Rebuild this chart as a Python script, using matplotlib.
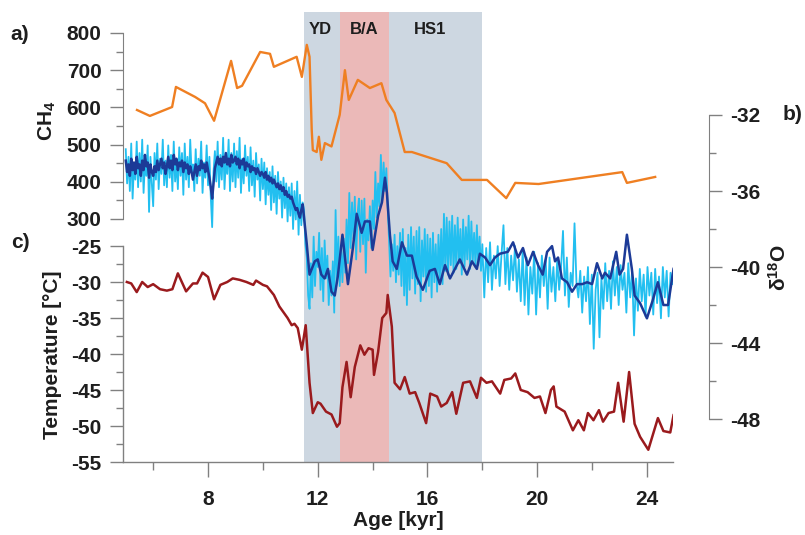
import numpy as np
import matplotlib
matplotlib.use("Agg")
import matplotlib.pyplot as plt
import matplotlib.transforms as mtransforms

plt.rcParams['font.family'] = ['Liberation Sans', 'DejaVu Sans']
plt.rcParams['font.weight'] = 'bold'
plt.rcParams['mathtext.fontset'] = 'custom'
plt.rcParams['mathtext.rm'] = 'Liberation Sans:bold'
plt.rcParams['mathtext.bf'] = 'Liberation Sans:bold'
plt.rcParams['mathtext.it'] = 'Liberation Sans:bold'
plt.rcParams['mathtext.default'] = 'bf'
plt.rcParams['axes.unicode_minus'] = False

# ---------------- data ----------------
# CH4 (ppb)
ch4_age = [5.41, 5.88, 6.69, 6.83, 7.53, 7.89, 8.22, 8.84, 9.06, 9.24, 9.90, 10.26,
           10.40, 11.23, 11.42, 11.60, 11.70, 11.78, 11.82, 11.96, 12.04, 12.13, 12.26,
           12.50, 12.80, 12.99, 13.13, 13.46, 13.90, 14.32, 14.50, 14.80, 15.17, 15.43,
           16.70, 17.25, 18.17, 18.87, 19.20, 20.05, 23.10, 23.27, 24.30]
ch4_val = [593, 577, 601, 655, 628, 611, 564, 725, 652, 658, 749, 744,
           709, 736, 682, 768, 736, 539, 485, 480, 521, 459, 504,
           495, 580, 700, 620, 674, 652, 665, 620, 585, 480, 480,
           450, 405, 405, 356, 397, 394, 426, 397, 413]

# high-resolution d18O record (light blue), three regularly sampled sections
d18o_hi_young_start, d18o_hi_young_step = 5.00, 0.05
d18o_hi_young = [
    -33.8, -35.6, -34.2, -36.0, -33.5, -36.4, -34.6, -35.4, -33.4, -35.8,
    -34.0, -35.5, -33.3, -36.1, -34.5, -35.2, -33.6, -37.1, -34.2, -35.6,
    -36.8, -34.0, -35.4, -33.5, -35.9, -34.3, -35.1, -33.3, -35.7, -34.4,
    -35.8, -33.6, -35.3, -34.1, -36.0, -33.4, -35.5, -34.5, -35.9, -33.7,
    -35.2, -34.0, -36.2, -33.5, -35.4, -34.2, -35.8, -33.3, -35.0, -34.6,
    -36.0, -33.8, -35.6, -34.3, -35.2, -33.4, -36.1, -34.5, -35.3, -33.6,
    -35.7, -34.2, -36.3, -37.9, -35.0, -33.9, -35.5, -33.4, -35.8, -34.1,
    -35.4, -33.2, -35.9, -34.4, -35.1, -33.3, -36.0, -34.0, -35.5, -33.5,
    -35.8, -33.9, -35.3, -33.2, -36.1, -34.3, -35.6, -33.6, -35.2, -34.2,
    -36.0, -33.7, -35.7, -34.4, -36.3, -34.0, -35.4, -34.6, -36.5, -34.3,
    -35.9, -34.5, -36.7, -34.8, -36.2, -35.0, -37.0, -34.7, -36.6, -35.2,
    -37.2, -35.0, -36.4, -35.5, -37.4, -35.3, -36.9, -35.6, -37.6, -35.8,
    -37.3, -35.6, -38.0, -36.0, -37.5, -35.5, -38.3, -36.2, -37.8, -36.6,
]
d18o_hi_mid_start, d18o_hi_mid_step = 11.50, 0.05
d18o_hi_mid = [
    -37.0, -38.8, -39.5, -41.5, -42.2, -39.8, -41.6, -38.4, -41.0, -39.2,
    -40.0, -38.2, -41.2, -39.0, -41.8, -38.6, -40.6, -39.4, -42.0, -40.2,
    -41.5, -39.7, -42.4, -37.0, -40.6, -38.4, -41.0, -39.0, -40.8, -38.5,
    -40.3, -37.5, -39.8, -36.1, -39.0, -36.6, -38.5, -36.3, -39.6, -37.2,
    -36.4, -39.2, -36.5, -38.8, -36.4, -40.3, -37.5, -38.6, -36.8, -39.0,
    -36.5, -38.0, -35.0, -37.4, -35.6, -36.8, -34.1, -36.5, -34.5, -36.0,
    -34.8, -36.9, -38.6, -40.5, -38.8, -40.2, -38.3, -40.8, -38.9, -40.4,
    -38.2, -41.0, -38.0, -41.5, -39.0, -42.0, -38.3, -41.2, -37.9, -40.6,
    -38.4, -41.4, -38.1, -40.9, -37.9, -41.8, -38.6, -40.5, -38.0, -41.3,
    -38.3, -41.0, -38.5, -41.6, -38.2, -40.8, -38.8, -41.3, -38.3, -40.7,
    -38.0, -40.9, -37.2, -40.2, -37.4, -40.4, -37.6, -39.9, -37.3, -40.3,
    -37.8, -40.1, -37.4, -39.8, -38.0, -40.4, -37.5, -40.0, -37.9, -39.6,
    -37.3, -40.1, -37.6, -39.7, -38.2, -40.0, -37.8, -39.9, -38.4, -40.2,
]
d18o_hi_old_start, d18o_hi_old_step = 18.00, 0.07
d18o_hi_old = [
    -38.8, -41.6, -39.0, -40.8, -38.7, -41.2, -39.4, -40.6, -38.9, -41.0,
    -39.3, -37.8, -40.9, -39.0, -41.2, -39.4, -40.7, -38.9, -41.3, -39.6,
    -41.8, -39.1, -42.0, -39.5, -42.5, -40.0, -41.4, -39.2, -42.5, -39.8,
    -41.6, -39.4, -41.0, -39.6, -42.2, -39.5, -41.3, -40.0, -41.8, -39.6,
    -41.2, -40.0, -38.1, -41.5, -39.5, -42.1, -40.3, -41.0, -37.7, -40.8,
    -41.6, -40.2, -42.4, -40.5, -41.8, -40.0, -43.0, -40.4, -44.3, -41.2,
    -40.3, -43.7, -40.6, -42.2, -39.8, -41.8, -40.2, -42.2, -39.7, -41.5,
    -40.0, -42.0, -39.9, -41.2, -40.3, -42.4, -39.8, -41.6, -40.2, -43.6,
    -40.6, -42.3, -40.1, -41.8, -40.4, -42.6, -40.0, -41.5, -40.3, -42.5,
    -40.1, -41.9, -40.5, -42.7, -40.0, -41.6, -40.2, -42.6, -40.3, -40.9,
]

# lower-resolution d18O record (dark blue)
d18o_lo_young_start, d18o_lo_young_step = 5.00, 0.05
d18o_lo_young = [
    -34.4, -35.0, -34.6, -35.2, -34.3, -34.9, -34.5, -35.1, -34.2, -34.8,
    -34.6, -35.2, -34.4, -34.9, -34.1, -34.7, -34.5, -35.3, -34.6, -35.0,
    -35.2, -34.7, -35.0, -34.4, -34.9, -34.6, -34.3, -34.8, -34.5, -35.1,
    -34.7, -34.2, -34.8, -34.4, -34.9, -34.1, -34.6, -34.3, -34.9, -34.5,
    -34.7, -34.4, -35.0, -34.5, -34.8, -34.6, -35.1, -34.7, -35.0, -35.4,
    -35.0, -34.6, -35.2, -34.7, -34.9, -34.4, -34.8, -34.6, -35.0, -34.5,
    -34.9, -35.3, -35.8, -36.4, -35.6, -34.8, -34.5, -34.2, -34.6, -34.3,
    -34.7, -34.2, -34.5, -34.0, -34.6, -34.3, -34.7, -34.1, -34.5, -34.4,
    -34.2, -34.6, -34.3, -34.8, -34.4, -34.6, -34.3, -34.9, -34.5, -34.7,
    -34.6, -35.0, -34.7, -34.9, -34.8, -35.1, -34.8, -35.0, -35.2, -35.0,
    -35.1, -35.3, -35.0, -35.4, -35.2, -35.5, -35.3, -35.6, -35.4, -35.6,
    -35.8, -35.6, -35.9, -35.7, -36.0, -35.8, -36.2, -36.0, -36.3, -36.2,
    -36.4, -36.3, -36.6, -36.8, -37.0, -36.9, -37.2, -37.4, -37.0, -36.7,
]
d18o_lo_old_age = [11.60, 11.70, 11.89, 12.00, 12.13, 12.25, 12.37, 12.50, 12.62, 12.73,
                   12.90, 13.10, 13.28, 13.42, 13.60, 13.72, 13.90, 14.00, 14.20, 14.34,
                   14.45, 14.52, 14.63, 14.73, 14.88, 15.07, 15.25, 15.43, 15.60, 15.83,
                   16.08, 16.27, 16.45, 16.64, 16.82, 17.00, 17.18, 17.44, 17.62, 17.80,
                   17.91, 18.10, 18.28, 18.46, 18.64, 18.93, 19.12, 19.30, 19.48, 19.66,
                   19.85, 20.03, 20.20, 20.36, 20.54, 20.65, 20.76, 20.90, 21.09, 21.27,
                   21.45, 21.64, 21.82, 22.00, 22.18, 22.37, 22.47, 22.66, 22.88, 23.00,
                   23.13, 23.27, 23.45, 23.55, 23.75, 24.00, 24.20, 24.40, 24.60, 24.77,
                   24.97]
d18o_lo_old_val = [-38.8, -40.4, -39.7, -39.6, -40.4, -40.6, -40.1, -41.3, -41.5, -40.5,
                   -38.3, -40.9, -39.0, -37.2, -38.2, -37.6, -37.6, -39.1, -37.3, -36.6,
                   -35.3, -36.1, -38.3, -39.7, -40.1, -38.7, -39.4, -39.4, -40.5, -41.2,
                   -40.2, -40.1, -40.9, -39.9, -40.6, -40.1, -39.6, -40.4, -39.7, -40.1,
                   -39.3, -39.5, -39.9, -39.5, -39.3, -39.2, -38.7, -39.5, -39.0, -39.9,
                   -39.2, -39.9, -40.4, -39.2, -38.9, -39.7, -39.5, -40.6, -40.8, -41.3,
                   -40.9, -40.9, -40.8, -40.9, -39.8, -40.6, -40.3, -40.6, -39.2, -40.4,
                   -40.1, -38.3, -40.1, -41.5, -41.9, -42.7, -41.8, -40.8, -42.0, -42.0,
                   -40.1]

# Temperature (deg C)
temp_age = [5.04, 5.20, 5.40, 5.60, 5.80, 6.00, 6.25, 6.50, 6.70, 6.90, 7.20, 7.45,
            7.60, 7.80, 8.00, 8.22, 8.45, 8.70, 8.90, 9.15, 9.40, 9.65, 9.75, 10.00,
            10.15, 10.40, 10.60, 10.90, 11.05, 11.15, 11.27, 11.42, 11.56, 11.70, 11.82,
            12.00, 12.10, 12.30, 12.50, 12.70, 12.80, 12.90, 13.05, 13.20, 13.35, 13.55,
            13.70, 13.85, 14.00, 14.05, 14.20, 14.35, 14.50, 14.55, 14.70, 14.80, 15.00,
            15.17, 15.35, 15.55, 15.70, 15.95, 16.10, 16.35, 16.50, 16.70, 16.90, 17.05,
            17.30, 17.55, 17.80, 17.95, 18.15, 18.35, 18.65, 18.80, 19.05, 19.20, 19.40,
            19.65, 19.90, 20.10, 20.30, 20.50, 20.60, 20.70, 21.00, 21.30, 21.50, 21.70,
            21.85, 22.05, 22.25, 22.40, 22.60, 22.80, 22.95, 23.15, 23.35, 23.55, 23.75,
            24.05, 24.40, 24.60, 24.85, 24.97]
temp_val = [-30.0, -30.2, -31.4, -30.0, -30.7, -30.3, -31.0, -31.2, -31.0, -28.8, -31.3, -30.2,
            -30.2, -28.7, -29.3, -32.4, -30.4, -30.0, -29.5, -29.7, -30.0, -30.4, -29.8, -30.4,
            -30.6, -31.8, -33.4, -35.0, -36.0, -35.8, -36.4, -39.4, -36.0, -44.0, -48.2,
            -46.7, -46.9, -48.0, -48.4, -50.1, -49.6, -44.6, -41.1, -46.0, -41.8, -38.8,
            -40.1, -39.2, -39.4, -42.9, -39.7, -35.0, -34.3, -31.8, -36.2, -44.0, -44.9,
            -43.2, -45.5, -45.3, -46.8, -49.6, -45.5, -45.9, -47.3, -46.8, -45.3, -48.3,
            -44.0, -43.8, -46.1, -43.3, -44.0, -43.8, -45.5, -43.6, -43.4, -42.7, -45.0,
            -45.3, -46.1, -45.9, -48.2, -45.0, -44.5, -47.3, -48.0, -50.6, -49.2, -50.6,
            -48.2, -49.2, -47.8, -49.4, -48.2, -48.0, -44.0, -49.4, -42.5, -49.7, -51.5,
            -53.3, -48.9, -50.7, -50.9, -48.5]

# climate intervals (kyr)
period_names = ["YD", "B/A", "HS1"]
period_start = [11.5, 12.8, 14.6]
period_end = [12.8, 14.6, 18.0]
period_label_x = [12.1, 13.7, 16.1]

x_major = [8, 12, 16, 20, 24]
x_minor = [6, 10, 14, 18, 22]

# ---------------- styling ----------------
C_ORANGE = '#ef7f22'
C_LIGHT = '#22bff0'
C_DARK = '#1c3a97'
C_RED = '#9a1a1d'
C_GREY = '#cdd7e1'
C_PINK = '#ebb9b8'
C_AXIS = '#808080'
C_TEXT = '#1e1e1e'
FS = 15

W, H = 805, 535
fig = plt.figure(figsize=(W / 100, H / 100), dpi=100)
rect = [123 / W, 1 - 462 / H, 550 / W, 450 / H]
XLIM = (4.9, 24.95)


def style_ticks(ax, axis):
    ax.tick_params(axis=axis, which='major', direction='out', length=9.5, width=1,
                   color=C_AXIS, labelsize=FS, labelcolor=C_TEXT, pad=6)
    ax.tick_params(axis=axis, which='minor', direction='out', length=5, width=1,
                   color=C_AXIS)


# temperature axes (bottom, carries the age axis and the shading)
ax_t = fig.add_axes(rect)
ax_t.set_xlim(*XLIM)
ax_t.set_ylim(-55, 7.5)
ax_t.patch.set_visible(False)
for s in ('top', 'right'):
    ax_t.spines[s].set_visible(False)
ax_t.spines['left'].set_bounds(-55, -25)
for s in ('left', 'bottom'):
    ax_t.spines[s].set_color(C_AXIS)
    ax_t.spines[s].set_linewidth(1)
ax_t.set_yticks(np.arange(-55, -24, 5))
ax_t.set_yticks(np.arange(-52.5, -25, 5), minor=True)
ax_t.set_xticks(x_major)
ax_t.set_xticks(x_minor, minor=True)
style_ticks(ax_t, 'y')
style_ticks(ax_t, 'x')
ax_t.tick_params(axis='x', which='major', length=11, pad=9)
ax_t.tick_params(axis='x', which='minor', length=6)

for s0, s1, name, lx in zip(period_start, period_end, period_names, period_label_x):
    col = C_PINK if name == "B/A" else C_GREY
    ax_t.axvspan(s0, s1, ymin=0, ymax=1, color=col, lw=0, zorder=0)
    trans = mtransforms.blended_transform_factory(ax_t.transData, ax_t.transAxes)
    ax_t.text(lx, 0.962, name, transform=trans, ha='center', va='center',
              fontsize=12, fontweight='bold', color=C_TEXT, zorder=3)

ax_t.plot(temp_age, temp_val, color=C_RED, lw=1.8, zorder=2)

# d18O axes (right)
ax_o = fig.add_axes(rect)
ax_o.set_xlim(*XLIM)
ax_o.set_ylim(-50.26, -26.58)
ax_o.patch.set_visible(False)
for s in ('top', 'left', 'bottom'):
    ax_o.spines[s].set_visible(False)
ax_o.spines['right'].set_position(('axes', 586 / 550))
ax_o.spines['right'].set_bounds(-48, -32)
ax_o.spines['right'].set_color(C_AXIS)
ax_o.yaxis.tick_right()
ax_o.set_yticks(np.arange(-48, -31, 4))
ax_o.set_yticks(np.arange(-46, -33, 4), minor=True)
ax_o.set_xticks([])
style_ticks(ax_o, 'y')

hi_age = np.concatenate([
    d18o_hi_young_start + d18o_hi_young_step * np.arange(len(d18o_hi_young)),
    d18o_hi_mid_start + d18o_hi_mid_step * np.arange(len(d18o_hi_mid)),
    d18o_hi_old_start + d18o_hi_old_step * np.arange(len(d18o_hi_old)),
])
hi_val = np.concatenate([d18o_hi_young, d18o_hi_mid, d18o_hi_old])
lo_age = np.concatenate([
    d18o_lo_young_start + d18o_lo_young_step * np.arange(len(d18o_lo_young)),
    d18o_lo_old_age,
])
lo_val = np.concatenate([d18o_lo_young, d18o_lo_old_val])

ax_o.plot(hi_age, hi_val, color=C_LIGHT, lw=1.3, zorder=2)
ax_o.plot(lo_age, lo_val, color=C_DARK, lw=1.8, zorder=3)

# CH4 axes (upper left)
ax_c = fig.add_axes(rect)
ax_c.set_xlim(*XLIM)
ax_c.set_ylim(-353.3, 856.4)
ax_c.patch.set_visible(False)
for s in ('top', 'right', 'bottom'):
    ax_c.spines[s].set_visible(False)
ax_c.spines['left'].set_bounds(300, 800)
ax_c.spines['left'].set_color(C_AXIS)
ax_c.set_yticks(np.arange(300, 801, 100))
ax_c.set_yticks(np.arange(350, 800, 100), minor=True)
ax_c.set_xticks([])
style_ticks(ax_c, 'y')
ax_c.plot(ch4_age, ch4_val, color=C_ORANGE, lw=1.7, zorder=3)


def fxy(px, py):
    return px / W, 1 - py / H


fig.text(*fxy(47, 121), r'CH$_4$', rotation=90, ha='center', va='center',
         fontsize=FS, color=C_TEXT)
fig.text(*fxy(53, 355), 'Temperature [°C]', rotation=90, ha='center', va='center',
         fontsize=FS, color=C_TEXT)
fig.text(*fxy(779, 267), r'δ$^{18}$O', rotation=90, ha='center', va='center',
         fontsize=FS, color=C_TEXT)
fig.text(*fxy(398, 521), 'Age [kyr]', ha='center', va='center', fontsize=FS, color=C_TEXT)
fig.text(*fxy(20, 35), 'a)', ha='center', va='center', fontsize=FS, color=C_TEXT)
fig.text(*fxy(20, 243), 'c)', ha='center', va='center', fontsize=FS, color=C_TEXT)
fig.text(*fxy(793, 115), 'b)', ha='center', va='center', fontsize=FS, color=C_TEXT)

fig.savefig('out.png', dpi=100)
